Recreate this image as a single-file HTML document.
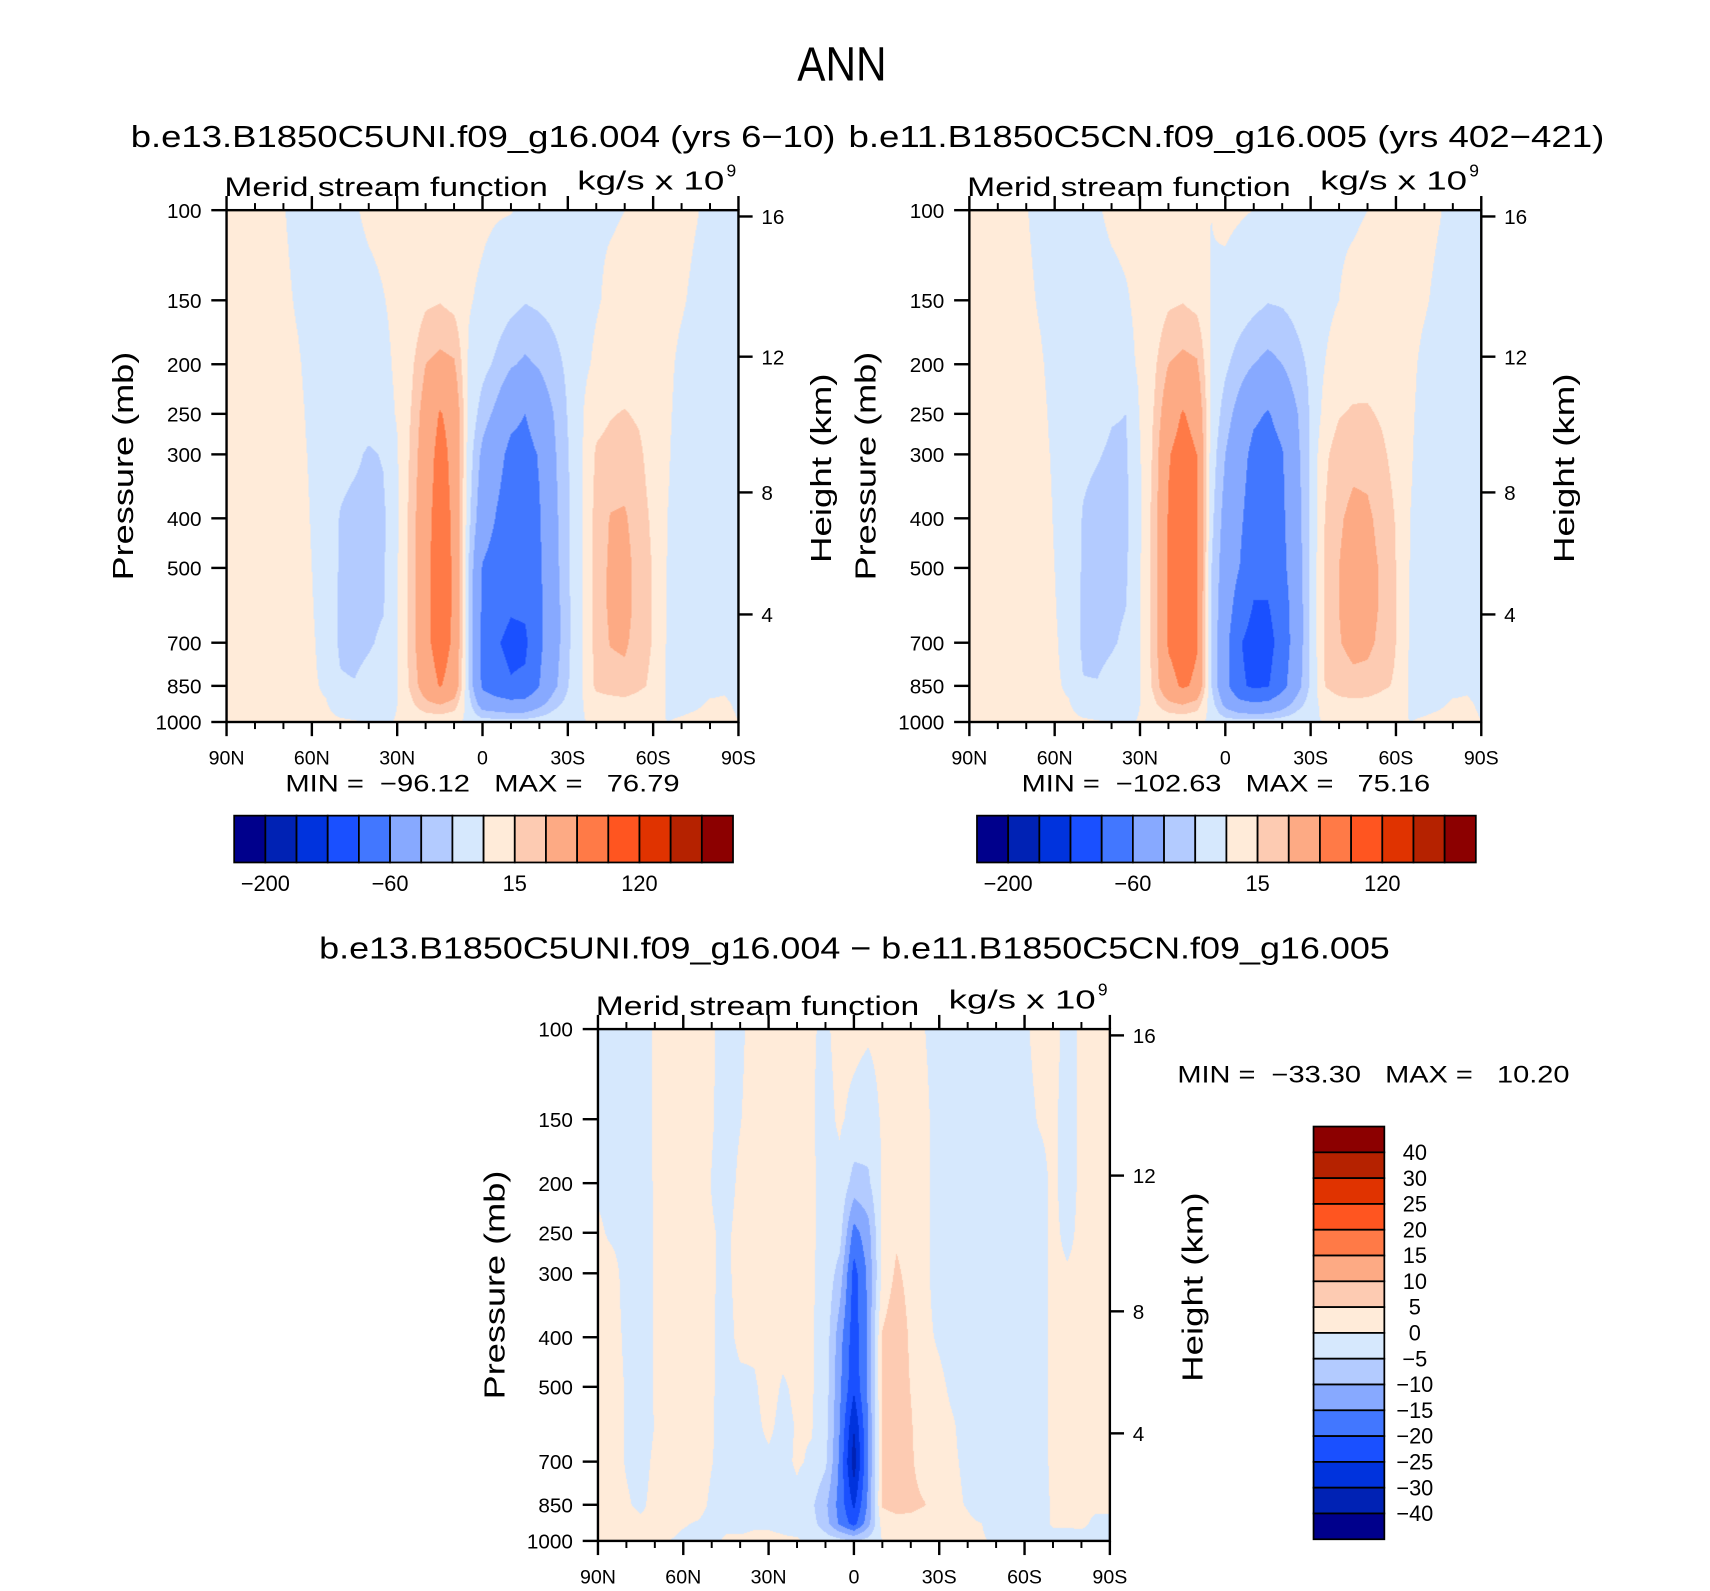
<!DOCTYPE html>
<html><head><meta charset="utf-8">
<style>
body{margin:0;background:#fff;width:1710px;height:1591px;overflow:hidden}
#stage{position:absolute;left:0;top:0;width:1570px;height:1461px;transform-origin:0 0;transform:scale(1.08917,1.08898)}
canvas{position:absolute}
svg{position:absolute;left:0;top:0}
text{font-family:"Liberation Sans",sans-serif;fill:#000}
</style></head><body>
<div id="stage">
<canvas id="c1" width="512" height="512" style="left:208px;top:193px;width:470px;height:470px"></canvas>
<canvas id="c2" width="512" height="512" style="left:890px;top:193px;width:470px;height:470px"></canvas>
<canvas id="c3" width="512" height="512" style="left:549px;top:945px;width:470px;height:470px"></canvas>
<svg id="svg" width="1570" height="1461" viewBox="0 0 1570 1461">
<text x="773" y="74" font-size="44" text-anchor="middle" textLength="82" lengthAdjust="spacingAndGlyphs">ANN</text>
<text x="120" y="135" font-size="28" textLength="647" lengthAdjust="spacingAndGlyphs">b.e13.B1850C5UNI.f09_g16.004 (yrs 6−10)</text>
<text x="779" y="135" font-size="28" textLength="694" lengthAdjust="spacingAndGlyphs">b.e11.B1850C5CN.f09_g16.005 (yrs 402−421)</text>
<text x="293" y="880" font-size="28" textLength="983" lengthAdjust="spacingAndGlyphs">b.e13.B1850C5UNI.f09_g16.004 − b.e11.B1850C5CN.f09_g16.005</text>
<text x="262" y="727" font-size="22" textLength="362" lengthAdjust="spacingAndGlyphs" xml:space="preserve">MIN =  −96.12   MAX =   76.79</text>
<text x="938" y="727" font-size="22" textLength="375" lengthAdjust="spacingAndGlyphs" xml:space="preserve">MIN =  −102.63   MAX =   75.16</text>
<text x="1081" y="994" font-size="22" textLength="360" lengthAdjust="spacingAndGlyphs" xml:space="preserve">MIN =  −33.30   MAX =   10.20</text>
</svg>
</div>
<script>
const pressureLevels=[100,150,200,250,300,400,500,600,700,850,925,1000];
const latitudes=[90,85,80,75,70,65,60,55,50,45,40,35,30,25,20,15,10,5,0,-5,-10,-15,-20,-25,-30,-35,-40,-45,-50,-55,-60,-65,-70,-75,-80,-85,-90];
const leftField=[
[2,2,2,2,2,2,2,2,2,2,2,1],[2,2,2,2,2,2,2,2,2,2,2,1],[3,3,3,3,3,3,3,3,3,3,3,1],[3,3,3,3,3,3,3,3,3,3,3,1],
[0.5,2,3,3,3,3,3,3,3,3,2,1],[-3,-1,1,2,2,3,3,3,3,3,2,1],[-5,-4,-3,-2,-1,-0.5,0,0.5,1,1,1,1],[-6,-6,-5,-5,-5,-5,-4,-4,-3,-1,0.5,1.5],
[-5,-7,-8,-9,-10,-16,-17,-18,-18,-13,-3,1],[-1,-4,-7,-9,-12,-20,-21,-21,-20,-14,-4,0.5],[2,-3,-5,-8,-17,-21,-21,-19,-17,-9,-4,-0.5],[3,-0.5,-3,-5,-14,-18,-17,-16,-12,-5,-3,-1],
[3,2.5,2,1,-1,-2,-1,-1,-1,0,0,0.5],[3,4,12,16,18,21,21,21,21,19,12,2],[3,12,30,40,45,50,52,52,52,42,25,3],[3,14,35,62,70,74,76,76,74,62,30,3],
[3,10,32,50,52,55,56,56,55,48,22,3],[3,1,-1,-3,-6,-10,-14,-15,-15,-14,-8,-3],[2,-2,-10,-22,-35,-45,-62,-65,-68,-65,-40,-8],[1,-6,-18,-35,-50,-62,-72,-80,-88,-80,-45,-8],
[0.5,-10,-28,-52,-68,-75,-82,-88,-96,-88,-50,-8],[-2,-14,-33,-60,-70,-74,-78,-86,-95,-85,-48,-8],[-3,-12,-28,-45,-58,-62,-64,-66,-66,-60,-35,-6],[-4,-10,-20,-30,-33,-36,-38,-40,-40,-35,-20,-4],
[-4,-8,-12,-14,-16,-17,-17,-18,-18,-16,-10,-2],[-3,-4,-3,-1,-1,0,0,0,0,0,-1,-0.5],[-1,-1,2,10,17,20,21,21,20,18,8,1],[-1,2,6,14,20,31,33,33,31,22,8,1],
[0,3,7,16,22,32,36,36,33,24,9,1],[2,3,6,13,18,22,24,24,22,18,7,1],[3,3,4,6,8,12,14,14,14,12,5,1],[2,1.5,1,0.7,0.5,0,-0.5,-1,-1.5,-2,-1,0],
[1.5,0.5,-1,-1.5,-2,-2,-2.5,-3,-3,-3,-1,0.5],[0.3,-1,-2,-2,-2,-2,-3,-3,-3,-2,-0.5,1],[-1,-1,-2,-2,-2,-2,-2,-2,-2,-1,0.5,1],[-1,-1,-1,-1,-1,-1,-1,-1,-1,-0.5,0.5,1],
[-1,-1,-1,-1,-1,-1,-1,-1,-1,-1,-0.5,0]];
const rightField=[
[2,2,2,2,2,2,2,2,2,2,2,1],[2,2,2,2,2,2,2,2,2,2,2,1],[3,3,3,3,3,3,3,3,3,3,3,1],[3,3,3,3,3,3,3,3,3,3,3,1],
[0.5,2,3,3,3,3,3,3,3,3,2,1],[-3,-1,1,2,2,3,3,3,3,3,2,1],[-5,-4,-3,-2,-1,-0.5,0,0.5,1,1,1,1],[-6,-6,-5,-5,-5,-5,-4,-4,-3,-1,0.5,1.5],
[-5,-7,-8,-9,-12,-16,-17,-18,-18,-14,-3,1],[-1,-4,-7,-10,-14,-20,-21,-21,-20,-14,-4,0.5],[2,-3,-6,-14,-17,-21,-21,-19,-17,-9,-4,-0.5],[3,-1,-4,-15,-17,-18,-17,-15,-12,-5,-3,-1],
[3,2.5,2,1,-1,-2,-1,-1,-1,0,0,0.5],[3,4,12,16,18,21,21,21,21,19,12,2],[3,12,30,45,58,62,64,64,63,50,25,3],[3,14,35,62,72,75,75,75,74,64,30,3],
[3,10,32,50,60,62,62,62,62,55,22,3],[0,-0.5,-1,-3,-6,-10,-14,-15,-15,-14,-8,-3],[2,-3,-12,-22,-30,-38,-42,-45,-50,-50,-35,-8],[1,-6,-22,-38,-48,-55,-60,-75,-88,-85,-50,-8],
[0,-10,-30,-55,-68,-75,-82,-92,-100,-95,-55,-8],[-2,-14,-35,-62,-72,-76,-82,-92,-100,-92,-52,-8],[-3,-13,-30,-50,-62,-65,-68,-75,-78,-70,-40,-6],[-4,-10,-20,-32,-36,-40,-42,-45,-45,-40,-22,-4],
[-4,-8,-12,-13,-12,-12,-12,-12,-12,-12,-8,-2],[-3,-2,0,5,12,15,16,16,16,15,6,0.5],[-1,0,4,14,22,28,30,30,29,22,9,1],[-1,2,7,17,26,34,37,37,35,25,10,1],
[0,3,8,17,25,33,36,36,34,24,9,1],[2,3,6,13,18,25,28,28,26,18,7,1],[3,3,4,7,10,14,15,15,15,13,5,1],[2,1.5,1,0.7,0.5,0,-0.5,-1,-1.5,-2,-1,0],
[1.5,0.5,-1,-1.5,-2,-2,-2.5,-3,-3,-3,-1,0.5],[0.3,-1,-2,-2,-2,-2,-3,-3,-3,-2,-0.5,1],[-1,-1,-2,-2,-2,-2,-2,-2,-2,-1,0.5,1],[-1,-1,-1,-1,-1,-1,-1,-1,-1,-0.5,0.5,1],
[-1,-1,-1,-1,-1,-1,-1,-1,-1,-1,-0.5,0]];
const diffField=[
[-1,-1,-0.5,0.5,1,1,1,1,1,1,1,1],[-1,-1,-1,-0.5,1,1,1,1,1,1,1,1],[-1,-1,-1,-1,-1,-0.5,-0.2,-0.2,-0.2,0.3,1,1],[-1,-1,-1.5,-1.5,-1.5,-1.5,-1.5,-1.5,-1,-0.5,0.5,1],
[0.3,0.3,0.3,0.3,0.3,0.3,0.3,0.1,0.5,0.8,0.5,0.5],[1.5,1.5,1.5,1.5,1.5,1.5,1.5,1.5,1.5,1.5,0.8,0],[1.5,1.5,1.5,1.5,1.5,1.5,1.5,1.5,1.5,1.2,0.2,-0.5],[1.5,1.5,1.5,1.5,1.5,1.5,1.5,1.5,1.5,1,-0.2,-0.7],
[0.3,0.2,-0.1,0.2,0.2,0.2,0.2,0.2,0.1,-0.5,-0.8,-0.5],[-1,-1,-1,-0.5,-0.5,-0.7,-0.8,-1,-1,-1,-0.5,0.3],[-0.5,-0.1,0.5,0.8,0.8,0.5,-0.5,-0.8,-1,-1,-0.5,0.3],[1,1,1,1,1,0.5,-0.3,-0.6,-1,-1,-0.3,0.5],
[1.5,1.5,1.5,1.5,1.5,1.5,1,0.5,-0.5,-1,-0.3,0.5],[1.5,1.5,1.5,1.5,1.5,0.8,-0.3,-0.8,-1,-1.2,-0.5,0.3],[1.5,1.5,1.5,1.5,1.5,1,0.5,0.2,0.5,-1,-1,0.3],[0.3,0.3,0.5,0.5,0.5,0.5,0.5,0.3,-0.5,-4,-3,-0.5],
[-0.5,-1,-1,-1,-1.5,-2,-2.5,-3,-4,-9,-8,-2],[1,0.5,-1,-3,-7,-13,-14,-15,-16,-17,-16,-3],[1,-1,-7,-17,-22,-23,-24,-30,-33,-26,-22,-5],[0.5,-2,-6,-12,-14,-14,-14,-15,-15,-14,-12,-3],
[1,0.5,0.5,1,1,5.5,5.5,5.5,5.5,5.5,2,0],[1.5,1.5,2,4,6,9,8,8,8,7,3,0.5],[1.5,1.5,1.5,2,3,4,4.8,5.5,5.8,6.5,3,0.5],[0,0.5,0.5,0.5,0.5,0.5,1,1.5,2,5.2,2,0.5],
[-1,-1,-1,-1,-1,-0.3,0.5,0.8,0.8,1,1,0.5],[-1,-1,-1,-1,-1,-1,-0.5,0.2,0.3,0.5,0.8,0.5],[-1.5,-1.5,-1.5,-1.5,-1.5,-1.5,-1.5,-1,-0.5,-0.2,0.5,0.5],[-1.5,-1.5,-1.5,-1.5,-1.5,-1.5,-1.5,-1.5,-1.5,-1.5,0,0.3],
[-1.5,-1.5,-1.5,-1.5,-1.5,-1.5,-1.5,-1.5,-1.5,-1.5,-1.5,-0.5],[-1.5,-1.5,-1.5,-1.5,-1.5,-1.5,-1.5,-1.5,-1.5,-1.5,-1.5,-1.5],[-0.5,-1,-1.5,-1.5,-1.5,-1.5,-1.5,-1.5,-1.5,-1.5,-1.5,-1.5],[1,0.2,-1,-1,-1,-1,-1,-1,-1,-1,-1,-1],
[1,0.5,0.5,0.5,0.5,0.5,0.5,0.5,0.5,0.3,0.3,-1],[-1,-1,-1,-0.5,0.2,0.5,0.5,0.5,0.5,0.3,0.3,-1],[0.5,0.5,0.5,0.5,0.5,0.5,0.5,0.5,0.5,0.5,0.5,-1],[0.5,0.5,0.5,0.5,0.5,0.5,0.5,0.5,0.5,0.5,-0.5,-1],
[0.5,0.5,0.5,0.5,0.5,0.5,0.5,0.5,0.5,0.5,-0.5,-1]];
const fullLevels=[-200,-150,-120,-90,-60,-30,-15,0,15,30,60,90,120,150,200];
const diffLevels=[-40,-30,-25,-20,-15,-10,-5,0,5,10,15,20,25,30,40];
const bandColors=['#00008c','#0022b4','#0033dd','#1a50ff','#4277ff','#87a9ff','#b3cbff','#d6e8fd','#ffebd9','#fdcbb2','#fdaa84','#ff7a47','#ff5520','#e03300','#b52200','#8c0000'];
const fullBarLabels=['−200','−60','15','120'];
const fullBarLabelBoundary=[1,5,9,13];
const diffBarLabels=['−40','−30','−25','−20','−15','−10','−5','0','5','10','15','20','25','30','40'];
const pressureTicks=[100,150,200,250,300,400,500,700,850,1000];
const heightTicks=[4,8,12,16];
const latMajor=[90,60,30,0,-30,-60,-90];
const latMajorLabels=['90N','60N','30N','0','30S','60S','90S'];
const latMinor=[80,70,50,40,20,10,-10,-20,-40,-50,-70,-80];

const W=470,H=470;
function xOf(x0,lat){return x0+(90-lat)/180*W;}
function yOf(y0,p){return y0+H*Math.log10(p/100);}
function pOfZ(zkm){const z=zkm*1000;if(z<=11000)return 1013.25*Math.pow(1-2.25577e-5*z,5.25588);return 226.32*Math.exp(-(z-11000)/6341.6);}
function hexRgb(h){return [parseInt(h.substr(1,2),16),parseInt(h.substr(3,2),16),parseInt(h.substr(5,2),16)];}

function renderField(id,field,levels){
  const cv=document.getElementById(id),ctx=cv.getContext('2d');
  const N=cv.width,img=ctx.createImageData(N,N),rgb=bandColors.map(hexRgb);
  const lp=pressureLevels.map(p=>Math.log10(p));
  for(let py=0;py<N;py++){
    const logp=2+(py+0.5)/N;
    let k=0;while(k<lp.length-2&&logp>lp[k+1])k++;
    let ty=(logp-lp[k])/(lp[k+1]-lp[k]);ty=Math.max(0,Math.min(1,ty));
    for(let px=0;px<N;px++){
      const lat=90-180*(px+0.5)/N;
      let j=0;while(j<latitudes.length-2&&lat<latitudes[j+1])j++;
      let tx=(latitudes[j]-lat)/(latitudes[j]-latitudes[j+1]);tx=Math.max(0,Math.min(1,tx));
      const a=field[j][k],b=field[j+1][k],c=field[j][k+1],d=field[j+1][k+1];
      const v=(a*(1-tx)+b*tx)*(1-ty)+(c*(1-tx)+d*tx)*ty;
      let bin=0;while(bin<levels.length&&v>=levels[bin])bin++;
      const col=rgb[bin],o=(py*N+px)*4;
      img.data[o]=col[0];img.data[o+1]=col[1];img.data[o+2]=col[2];img.data[o+3]=255;
    }
  }
  ctx.putImageData(img,0,0);
}
renderField('c1',leftField,fullLevels);
renderField('c2',rightField,fullLevels);
renderField('c3',diffField,diffLevels);

const NS='http://www.w3.org/2000/svg',svg=document.getElementById('svg');
function add(tag,attrs,name,parent){
  const el=document.createElementNS(NS,tag);
  for(const k in attrs)el.setAttribute(k,attrs[k]);
  
  
  (parent||svg).appendChild(el);return el;
}
function txt(x,y,s,size,anchor,name,parent,extra){
  const a=Object.assign({x:x,y:y,'font-size':size,'text-anchor':anchor},extra||{});
  const t=add('text',a,name,parent);t.textContent=s;return t;
}
function panel(x0,y0,key){
  const g=add('g',{},key+'-axes');
  add('rect',{x:x0,y:y0,width:W,height:H,fill:'none',stroke:'#000','stroke-width':2.2},key+'-frame',g);
  latMajor.forEach((lat,i)=>{
    const x=xOf(x0,lat);
    add('line',{x1:x,x2:x,y1:y0,y2:y0-13,stroke:'#000','stroke-width':2.2},key+'-top-major-tick',g);
    add('line',{x1:x,x2:x,y1:y0+H,y2:y0+H+13,stroke:'#000','stroke-width':2.2},key+'-x-major-tick',g);
    txt(x,y0+H+39,latMajorLabels[i],18,'middle',key+'-x-tick-label',g);
  });
  latMinor.forEach(lat=>{
    const x=xOf(x0,lat);
    add('line',{x1:x,x2:x,y1:y0,y2:y0-6.5,stroke:'#000','stroke-width':1.8},key+'-top-minor-tick',g);
    add('line',{x1:x,x2:x,y1:y0+H,y2:y0+H+6.5,stroke:'#000','stroke-width':1.8},key+'-x-minor-tick',g);
  });
  pressureTicks.forEach(p=>{
    const y=yOf(y0,p);
    add('line',{x1:x0,x2:x0-14,y1:y,y2:y,stroke:'#000','stroke-width':2.2},key+'-pressure-tick',g);
    txt(x0-23,y+7,String(p),19,'end',key+'-pressure-label',g);
  });
  heightTicks.forEach(z=>{
    const y=yOf(y0,pOfZ(z));
    add('line',{x1:x0+W,x2:x0+W+13,y1:y,y2:y,stroke:'#000','stroke-width':2.2},key+'-height-tick',g);
    txt(x0+W+21,y+7,String(z),19,'start',key+'-height-label',g);
  });
  txt(x0-2,y0-13,'Merid stream function',25,'start',key+'-variable-title',g,{textLength:297,lengthAdjust:'spacingAndGlyphs'});
  txt(x0+322,y0-19,'kg/s x 10',24,'start',key+'-units',g,{textLength:135,lengthAdjust:'spacingAndGlyphs'});
  txt(x0+459,y0-31,'9',16,'start',key+'-units-exponent',g);
  txt(0,0,'Pressure (mb)',26,'middle',key+'-y-axis-title',g,{transform:'translate('+(x0-86)+','+(y0+235)+') rotate(-90)',textLength:210,lengthAdjust:'spacingAndGlyphs'});
  txt(0,0,'Height (km)',26,'middle',key+'-right-axis-title',g,{transform:'translate('+(x0+W+85)+','+(y0+237)+') rotate(-90)',textLength:174,lengthAdjust:'spacingAndGlyphs'});
}
panel(208,193,'left-panel');
panel(890,193,'right-panel');
panel(549,945,'difference-panel');

function hbar(x0,y0,key){
  const g=add('g',{},key),bw=(673-215)/bandColors.length;
  bandColors.forEach((c,i)=>add('rect',{x:x0+i*bw,y:y0,width:bw,height:43,fill:c,stroke:'#000','stroke-width':1.6},key+'-box',g));
  fullBarLabels.forEach((s,i)=>txt(x0+fullBarLabelBoundary[i]*bw,y0+69,s,20,'middle',key+'-label',g));
}
hbar(215,749,'left-colorbar');
hbar(897,749,'right-colorbar');
(function(){
  const g=add('g',{},'difference-colorbar'),x0=1206,y0=1034.5,bh=(1413.5-1034.5)/bandColors.length;
  bandColors.slice().reverse().forEach((c,i)=>add('rect',{x:x0,y:y0+i*bh,width:65,height:bh,fill:c,stroke:'#000','stroke-width':1.6},'difference-colorbar-box',g));
  diffBarLabels.slice().reverse().forEach((s,i)=>txt(1299,y0+(i+1)*bh+7,s,20,'middle','difference-colorbar-label',g));
})();
</script>
</body></html>
